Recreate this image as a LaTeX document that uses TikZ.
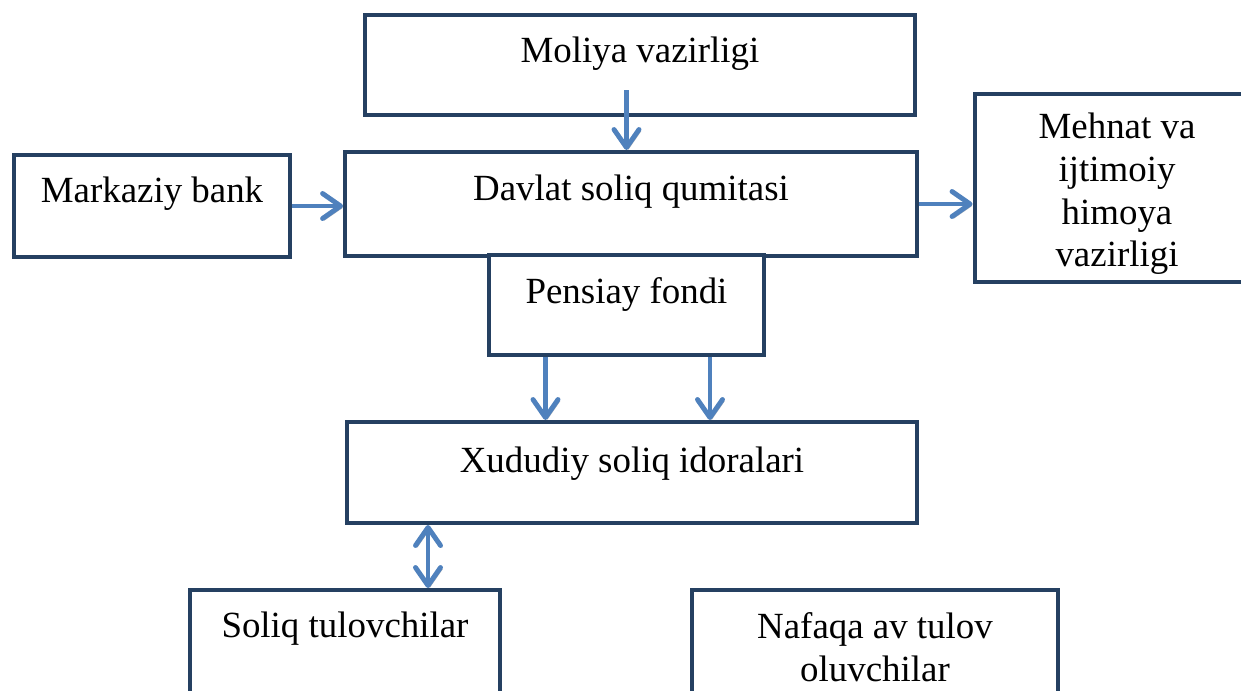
\documentclass[tikz,border=0pt]{standalone}
\usepackage{fontspec}
\setmainfont{Liberation Serif}
\usetikzlibrary{arrows.meta}
\definecolor{boxline}{HTML}{254061}
\definecolor{arrowblue}{HTML}{4F81BD}

\begin{document}
\begin{tikzpicture}[x=0.02cm, y=-0.02cm,
    box/.style={draw=boxline, line width=2.3pt, fill=white, inner sep=0pt,
      align=center, font=\fontsize{21}{24.4}\selectfont},
    tip/.tip={Straight Barb[length=0.36cm, width=0.5cm, line cap=round, line join=round]},
    arr/.style={draw=arrowblue, line width=2.8pt, -tip,
      preaction={draw=black!28, transform canvas={shift={(0.035cm,-0.035cm)}}}},
    twoarr/.style={arr, tip-tip}]
  \useasboundingbox (0,0) rectangle (1241,690);

  \node[box, minimum width=11cm, text height=0.94cm, text depth=1.06cm]
    (moliya) at (640, 65) {Moliya vazirligi};

  \node[box, minimum width=5.52cm, text height=0.94cm, text depth=1.1cm]
    (markaz) at (152, 206) {Markaziy bank};

  \node[box, minimum width=11.44cm, text height=0.96cm, text depth=1.12cm]
    (davlat) at (631, 204) {Davlat soliq qumitasi};

  \node[box, minimum width=5.7cm, text height=3.46cm, text depth=0.3cm]
    (mehnat) at (1117, 188) {Mehnat va\\ijtimoiy\\himoya\\vazirligi};

  \node[box, minimum width=5.5cm, text height=0.96cm, text depth=1.04cm]
    (pensiay) at (626.5, 305) {Pensiay fondi};

  \node[box, minimum width=11.4cm, text height=1.0cm, text depth=1.02cm]
    (xududiy) at (632, 472.5) {Xududiy soliq idoralari};

  \node[box, minimum width=6.2cm, text height=0.94cm, text depth=1.66cm]
    (soliq) at (345, 655) {Soliq tulovchilar};

  \node[box, minimum width=7.32cm, text height=1.82cm, text depth=0.78cm]
    (nafaqa) at (875, 655) {Nafaqa av tulov\\oluvchilar};

  \draw[arr] ([xshift=-0.09cm, yshift=0.54cm]moliya.south -| davlat.north)
    -- ([xshift=-0.09cm]davlat.north);
  \draw[arr] (markaz.east) -- (markaz.east -| davlat.west);
  \draw[arr] (davlat.east) -- (davlat.east -| mehnat.west);
  \draw[arr] ([xshift=-1.62cm]pensiay.south)
    -- ([xshift=-1.62cm]pensiay.south |- xududiy.north);
  \draw[arr] ([xshift=1.67cm]pensiay.south)
    -- ([xshift=1.67cm]pensiay.south |- xududiy.north);
  \draw[twoarr] ([xshift=1.66cm]xududiy.south west)
    -- ([xshift=1.66cm]xududiy.south west |- soliq.north);

\end{tikzpicture}
\end{document}
